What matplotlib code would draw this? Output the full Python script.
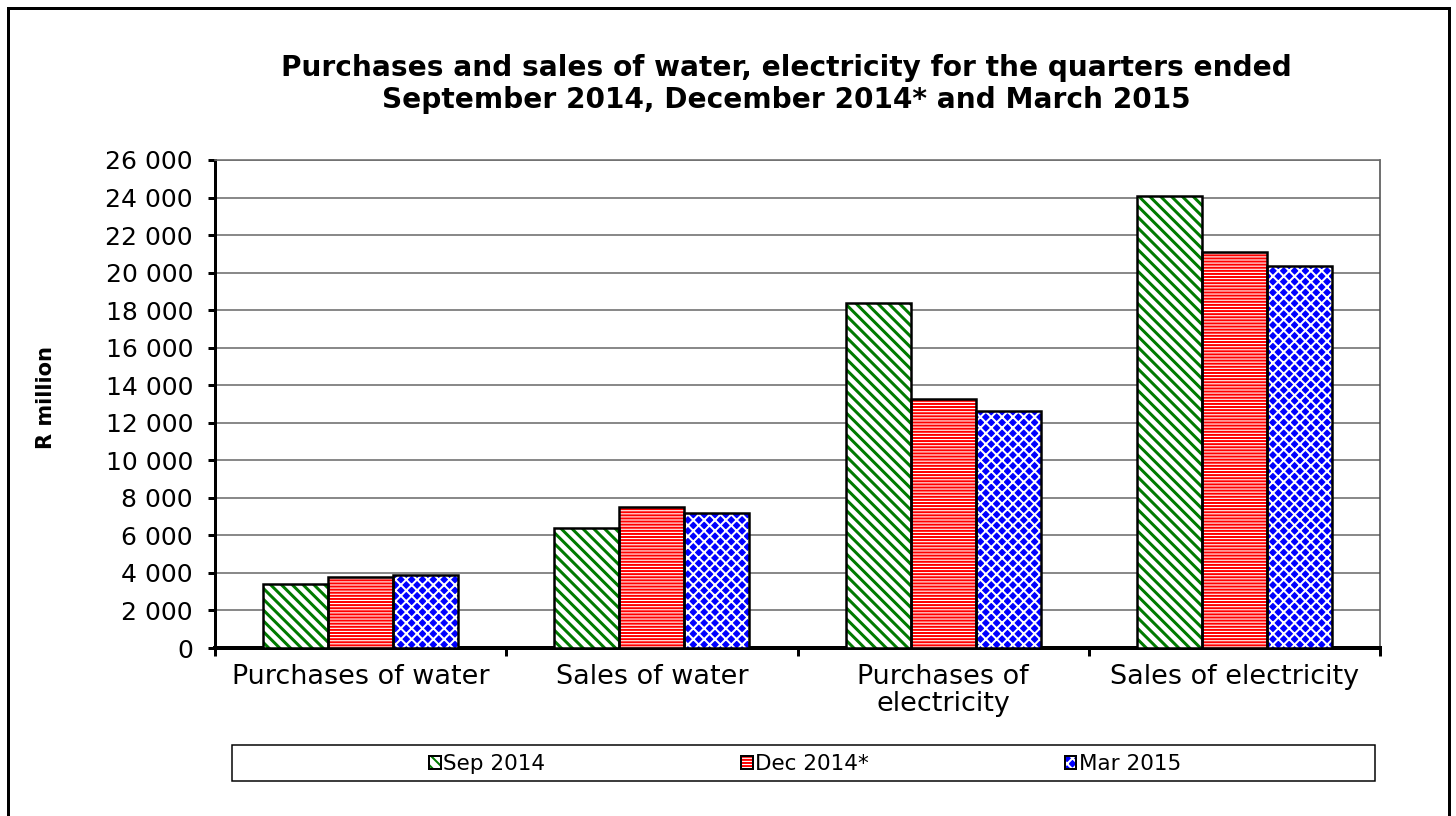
import matplotlib
matplotlib.use("Agg")
import matplotlib.pyplot as plt
import numpy as np
from matplotlib.patches import Patch, Rectangle
from matplotlib.ticker import FuncFormatter, MultipleLocator

# ---- data ----
categories = ["Purchases of water", "Sales of water", "Purchases of\nelectricity", "Sales of electricity"]
series_names = ["Sep 2014", "Dec 2014*", "Mar 2015"]
sep_2014 = [3410, 6390, 18380, 24080]
dec_2014 = [3780, 7510, 13270, 21100]
mar_2015 = [3890, 7190, 12630, 20350]
title = "Purchases and sales of water, electricity for the quarters ended\nSeptember 2014, December 2014* and March 2015"
ylabel = "R million"

DPI = 130
W, H = 1456, 816
def p(px):
    return px * 72.0 / DPI

plt.rcParams['font.family'] = ['DejaVu Sans']

fig = plt.figure(figsize=(W / DPI, H / DPI), dpi=DPI)
L, R, T, B = 215, 1380, 160, 648
ax = fig.add_axes([L / W, 1 - B / H, (R - L) / W, (B - T) / H])

x = np.arange(len(categories))
bw = 0.223
styles = [
    dict(face="white", hcol="#007a00", hatch="\\\\\\\\", hlw=p(3.0)),
    dict(face="white", hcol="#ff0000", hatch="-------", hlw=p(2.0)),
    dict(face="#0000ff", hcol="white", hatch="xxxx", hlw=p(2.0)),
]
data = [sep_2014, dec_2014, mar_2015]
handles = []
for i, (vals, st) in enumerate(zip(data, styles)):
    plt.rcParams['hatch.linewidth'] = st['hlw']
    ax.bar(x + (i - 1) * bw, vals, bw, facecolor=st['face'], edgecolor=st['hcol'],
           hatch=st['hatch'], linewidth=0, zorder=3)
    ax.bar(x + (i - 1) * bw, vals, bw, fill=False, edgecolor="black",
           linewidth=p(2.5), zorder=4)
    handles.append((Patch(facecolor=st['face'], edgecolor=st['hcol'], hatch=st['hatch'], linewidth=0),
                    Patch(fill=False, edgecolor="black", linewidth=p(2))))

ax.set_xlim(-0.5, 3.5)
ax.set_ylim(0, 26000)
ax.yaxis.set_major_locator(MultipleLocator(2000))
ax.yaxis.set_major_formatter(FuncFormatter(lambda v, pos: f"{int(v):,}".replace(",", " ")))
ax.grid(axis="y", color="#6e6e6e", linewidth=p(1.6), zorder=0)
ax.set_axisbelow(True)

ax.set_xticks(x)
ax.set_xticklabels(categories, fontsize=p(27), linespacing=1.04)
ax.set_xticks(np.arange(-0.5, 4.0, 1.0), minor=True)
ax.tick_params(axis="x", which="major", length=0, pad=p(16))
ax.tick_params(axis="x", which="minor", length=p(8), width=p(3), direction="out")
ax.tick_params(axis="y", which="major", length=p(7), width=p(3), direction="out",
               labelsize=p(25), pad=p(15))

ax.spines['left'].set_linewidth(p(3))
ax.spines['bottom'].set_linewidth(p(4))
ax.spines['top'].set_color("#6e6e6e")
ax.spines['top'].set_linewidth(p(1.6))
ax.spines['right'].set_color("#505050")
ax.spines['right'].set_linewidth(p(1.6))

fig.text(786 / W, 1 - 84 / H, title, ha="center", va="center", fontsize=p(28),
         fontweight="bold", linespacing=1.17)
fig.text(46 / W, 1 - 397 / H, ylabel, ha="center", va="center", rotation=90,
         fontsize=p(21), fontweight="bold")

# legend box
fig.patches.append(Rectangle((232 / W, 1 - 781 / H), (1375 - 232) / W, 36 / H,
                             transform=fig.transFigure, fill=False, edgecolor="black",
                             linewidth=p(1.5)))
fig.legend(handles=handles, labels=series_names, loc="center",
           bbox_to_anchor=(805 / W, 1 - 764 / H), ncol=3, frameon=False,
           fontsize=p(21.5), handlelength=0.55, handleheight=0.55, handletextpad=0.12,
           columnspacing=9.1)

# outer border
fig.patches.append(Rectangle((8 / W, -0.05), (1449 - 8) / W, 1.05 - 8 / H,
                             transform=fig.transFigure, fill=False, edgecolor="black",
                             linewidth=p(3)))

fig.savefig("out.png", dpi=DPI)
